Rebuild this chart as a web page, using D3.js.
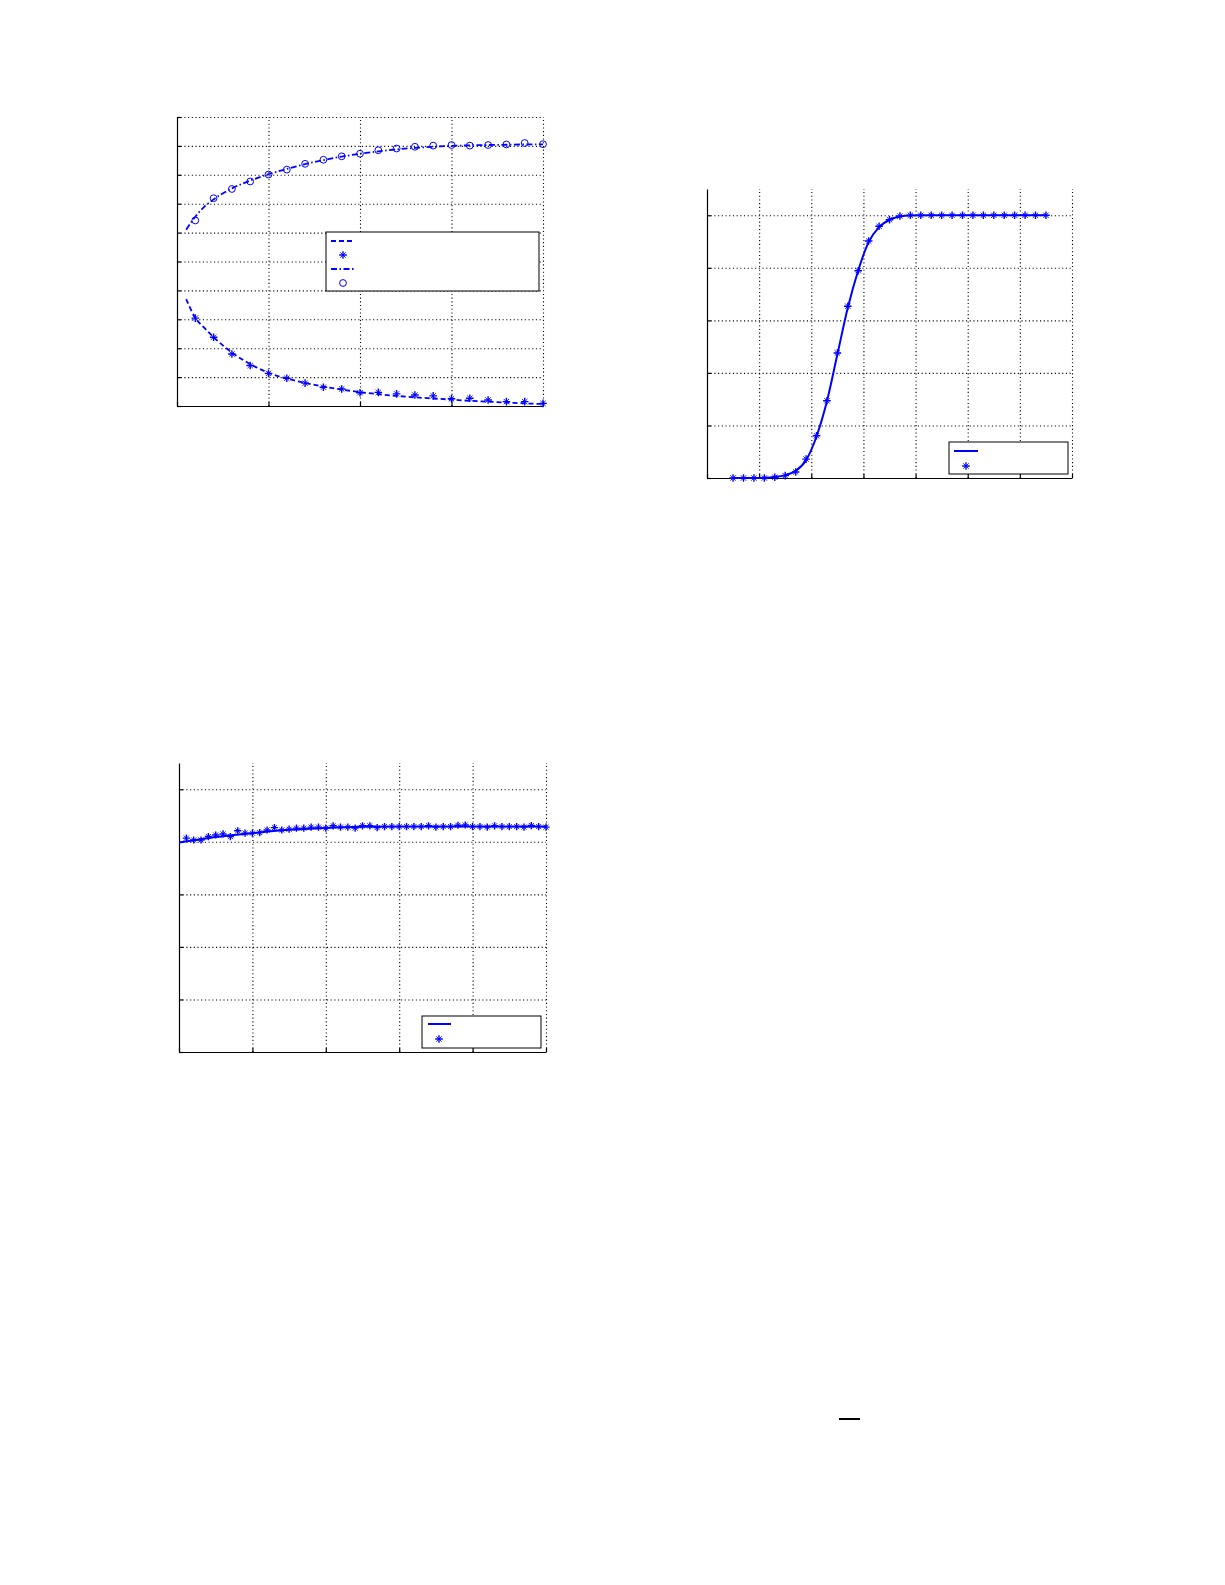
<!DOCTYPE html>
<html>
<head>
<meta charset="utf-8">
<script src="https://cdn.jsdelivr.net/npm/d3@7"></script>
<style>
  html, body { margin: 0; padding: 0; background: #fff; }
  svg { display: block; font-family: "DejaVu Sans", sans-serif; }
</style>
</head>
<body>
<svg id="fig" width="1225" height="1585"></svg>
<script>
// ---------------- DATA ----------------
// Panel 1 (top-left): two decaying / growing series with fits
const p1PointX   = [1,2,3,4,5,6,7,8,9,10,11,12,13,14,15,16,17,18,19,20];
const p1Stars    = [0.304,0.238,0.180,0.140,0.113,0.096,0.079,0.065,0.059,0.046,0.047,0.042,0.038,0.035,0.025,0.027,0.021,0.015,0.015,0.009];
const p1Circles  = [0.642,0.719,0.751,0.777,0.801,0.818,0.838,0.852,0.864,0.873,0.885,0.891,0.897,0.901,0.903,0.901,0.903,0.905,0.910,0.906];
const p1LineX    = [0.5,1,1.5,2,3,4,5,6,7,8,9,10,11,12,13,14,15,16,17,18,19,20];
const p1Dashed   = [0.370,0.305,0.270,0.238,0.185,0.145,0.115,0.095,0.080,0.067,0.057,0.048,0.041,0.035,0.030,0.026,0.022,0.018,0.015,0.012,0.009,0.007];
const p1DashDot  = [0.610,0.655,0.690,0.715,0.753,0.780,0.802,0.820,0.837,0.851,0.863,0.873,0.881,0.888,0.893,0.897,0.900,0.902,0.903,0.904,0.905,0.905];
const p1XTicks   = [0,5,10,15,20];
const p1YTicks   = [0,0.1,0.2,0.3,0.4,0.5,0.6,0.7,0.8,0.9,1.0];

// Panel 2 (top-right): sigmoid
const p2PointX   = [0.5,0.7,0.9,1.1,1.3,1.5,1.7,1.9,2.1,2.3,2.5,2.7,2.9,3.1,3.3,3.5,3.7,3.9,4.1,4.3,4.5,4.7,4.9,5.1,5.3,5.5,5.7,5.9,6.1,6.3,6.5];
const p2Stars    = [0,0,0,0,0.003,0.009,0.023,0.072,0.161,0.294,0.476,0.654,0.789,0.902,0.958,0.983,0.997,1,1,1,1,1,1,1,1,1,1,1,1,1,1];
const p2LineX    = [0.5,0.9,1.1,1.3,1.5,1.7,1.9,2.1,2.3,2.5,2.7,2.9,3.1,3.3,3.5,3.7,3.9,4.3,6.5];
const p2Line     = [0,0,0.001,0.004,0.011,0.027,0.068,0.158,0.292,0.470,0.648,0.790,0.898,0.955,0.983,0.995,0.999,1,1];
const p2XTicks   = [0,1,2,3,4,5,6,7];
const p2YTicks   = [0,0.2,0.4,0.6,0.8,1.0];

// Panel 3 (bottom-left): near-flat series
const p3PointX   = [0.1,0.2,0.3,0.4,0.5,0.6,0.7,0.8,0.9,1.0,1.1,1.2,1.3,1.4,1.5,1.6,1.7,1.8,1.9,2.0,2.1,2.2,2.3,2.4,2.5,2.6,2.7,2.8,2.9,3.0,3.1,3.2,3.3,3.4,3.5,3.6,3.7,3.8,3.9,4.0,4.1,4.2,4.3,4.4,4.5,4.6,4.7,4.8,4.9,5.0];
const p3Stars    = [0.814,0.807,0.807,0.820,0.826,0.830,0.820,0.842,0.833,0.833,0.835,0.845,0.854,0.845,0.848,0.852,0.852,0.856,0.856,0.852,0.861,0.856,0.856,0.852,0.861,0.861,0.854,0.858,0.858,0.858,0.858,0.858,0.858,0.861,0.856,0.858,0.858,0.863,0.864,0.858,0.858,0.856,0.861,0.858,0.858,0.858,0.856,0.862,0.858,0.856];
const p3LineX    = [0,0.5,1.0,1.5,2.0,2.5,3.0,4.0,5.0];
const p3Line     = [0.797,0.818,0.833,0.846,0.853,0.857,0.858,0.858,0.858];
const p3XTicks   = [0,1,2,3,4,5];
const p3YTicks   = [0,0.2,0.4,0.6,0.8,1.0];

// ---------------- DRAWING ----------------
const BLUE = "#0000ff";
const svg = d3.select("#fig");

function plusPath(r) { return `M${-r},0L${r},0M0,${-r}L0,${r}`; }
function crossPath(r) { const d = r * 0.7; return `M${-d},${-d}L${d},${d}M${-d},${d}L${d},${-d}`; }

function addStar(sel, r) {
  sel.append("path").attr("d", plusPath(r)).attr("fill", "none").attr("stroke", BLUE).attr("stroke-width", 1.4);
  sel.append("path").attr("d", crossPath(r)).attr("fill", "none").attr("stroke", BLUE).attr("stroke-width", 0.9);
}

function panel(cfg) {
  const g = svg.append("g").attr("transform", `translate(${cfg.left},${cfg.top})`);
  const w = cfg.right - cfg.left, h = cfg.bottom - cfg.top;
  const x = d3.scaleLinear().domain(cfg.xDomain).range([0, w]);
  const y = d3.scaleLinear().domain(cfg.yDomain).range([h, 0]);

  // dotted grid
  const gridX = g.append("g").attr("transform", `translate(0,${h})`)
    .call(d3.axisBottom(x).tickValues(cfg.xTicks.filter(v => v !== cfg.xDomain[0])).tickSize(-h).tickFormat(""));
  const gridY = g.append("g")
    .call(d3.axisLeft(y).tickValues(cfg.yTicks.filter(v => v !== cfg.yDomain[0])).tickSize(-w).tickFormat(""));
  [gridX, gridY].forEach(s => {
    s.select(".domain").remove();
    s.selectAll(".tick line").attr("stroke", "#000").attr("stroke-width", 1.1).attr("stroke-dasharray", "1.1,2.6");
  });

  // axes with inward ticks
  const ax = g.append("g").attr("transform", `translate(0,${h})`)
    .call(d3.axisBottom(x).tickValues(cfg.xTicks).tickSizeInner(-4).tickSizeOuter(0).tickFormat(""));
  const ay = g.append("g")
    .call(d3.axisLeft(y).tickValues(cfg.yTicks).tickSizeInner(-4).tickSizeOuter(0).tickFormat(""));
  [ax, ay].forEach(s => {
    s.select(".domain").attr("stroke", "#000").attr("stroke-width", 1.2);
    s.selectAll(".tick line").attr("stroke", "#000").attr("stroke-width", 1.2);
  });

  return { g, x, y, w, h };
}

function drawLine(P, xs, ys, dash, width) {
  const line = d3.line().x((d, i) => P.x(xs[i])).y((d, i) => P.y(ys[i])).curve(d3.curveMonotoneX);
  P.g.append("path").datum(ys).attr("d", line)
    .attr("fill", "none").attr("stroke", BLUE).attr("stroke-width", width)
    .attr("stroke-dasharray", dash || null);
}
function drawStars(P, xs, ys, r) {
  P.g.append("g").selectAll("g").data(ys).join("g")
    .attr("transform", (d, i) => `translate(${P.x(xs[i])},${P.y(d)})`)
    .each(function () { addStar(d3.select(this), r); });
}
function drawCircles(P, xs, ys, r) {
  P.g.append("g").selectAll("circle").data(ys).join("circle")
    .attr("cx", (d, i) => P.x(xs[i])).attr("cy", d => P.y(d)).attr("r", r)
    .attr("fill", "none").attr("stroke", BLUE).attr("stroke-width", 1);
}

// Panel 1
const P1 = panel({ left: 177, top: 117, right: 543, bottom: 406, xDomain: [0, 20], yDomain: [0, 1], xTicks: p1XTicks, yTicks: p1YTicks });
drawLine(P1, p1LineX, p1Dashed, "5,3", 1.8);
drawLine(P1, p1LineX, p1DashDot, "6,2.5,1.5,2.5", 1.8);
drawStars(P1, p1PointX, p1Stars, 3.8);
drawCircles(P1, p1PointX, p1Circles, 3.4);
{
  const L = svg.append("g").attr("transform", "translate(326,232)");
  L.append("rect").attr("width", 213).attr("height", 59).attr("fill", "#fff").attr("stroke", "#000").attr("stroke-width", 1);
  L.append("line").attr("x1", 5).attr("x2", 29).attr("y1", 9).attr("y2", 9).attr("stroke", BLUE).attr("stroke-width", 1.8).attr("stroke-dasharray", "5,3");
  addStar(L.append("g").attr("transform", "translate(17,23)"), 3.8);
  L.append("line").attr("x1", 5).attr("x2", 29).attr("y1", 37).attr("y2", 37).attr("stroke", BLUE).attr("stroke-width", 1.8).attr("stroke-dasharray", "6,2.5,1.5,2.5");
  L.append("circle").attr("cx", 17).attr("cy", 51).attr("r", 3.4).attr("fill", "none").attr("stroke", BLUE).attr("stroke-width", 1);
}

// Panel 2
const P2 = panel({ left: 707, top: 189, right: 1072, bottom: 478, xDomain: [0, 7], yDomain: [0, 1.1], xTicks: p2XTicks, yTicks: p2YTicks });
drawLine(P2, p2LineX, p2Line, null, 2);
drawStars(P2, p2PointX, p2Stars, 3.8);
{
  const L = svg.append("g").attr("transform", "translate(949,442)");
  L.append("rect").attr("width", 119).attr("height", 32).attr("fill", "#fff").attr("stroke", "#000").attr("stroke-width", 1);
  L.append("line").attr("x1", 5).attr("x2", 29).attr("y1", 9).attr("y2", 9).attr("stroke", BLUE).attr("stroke-width", 2);
  addStar(L.append("g").attr("transform", "translate(17,24)"), 3.8);
}

// Panel 3
const P3 = panel({ left: 179, top: 763, right: 546, bottom: 1052, xDomain: [0, 5], yDomain: [0, 1.1], xTicks: p3XTicks, yTicks: p3YTicks });
drawLine(P3, p3LineX, p3Line, null, 2);
drawStars(P3, p3PointX, p3Stars, 3.6);
{
  const L = svg.append("g").attr("transform", "translate(422,1016)");
  L.append("rect").attr("width", 119).attr("height", 32).attr("fill", "#fff").attr("stroke", "#000").attr("stroke-width", 1);
  L.append("line").attr("x1", 6).attr("x2", 29).attr("y1", 8).attr("y2", 8).attr("stroke", BLUE).attr("stroke-width", 2);
  addStar(L.append("g").attr("transform", "translate(17,23)"), 3.8);
}

// small overbar glyph near the bottom of the page
svg.append("line").attr("x1", 839).attr("x2", 860).attr("y1", 1419).attr("y2", 1419).attr("stroke", "#000").attr("stroke-width", 2);
</script>
</body>
</html>
